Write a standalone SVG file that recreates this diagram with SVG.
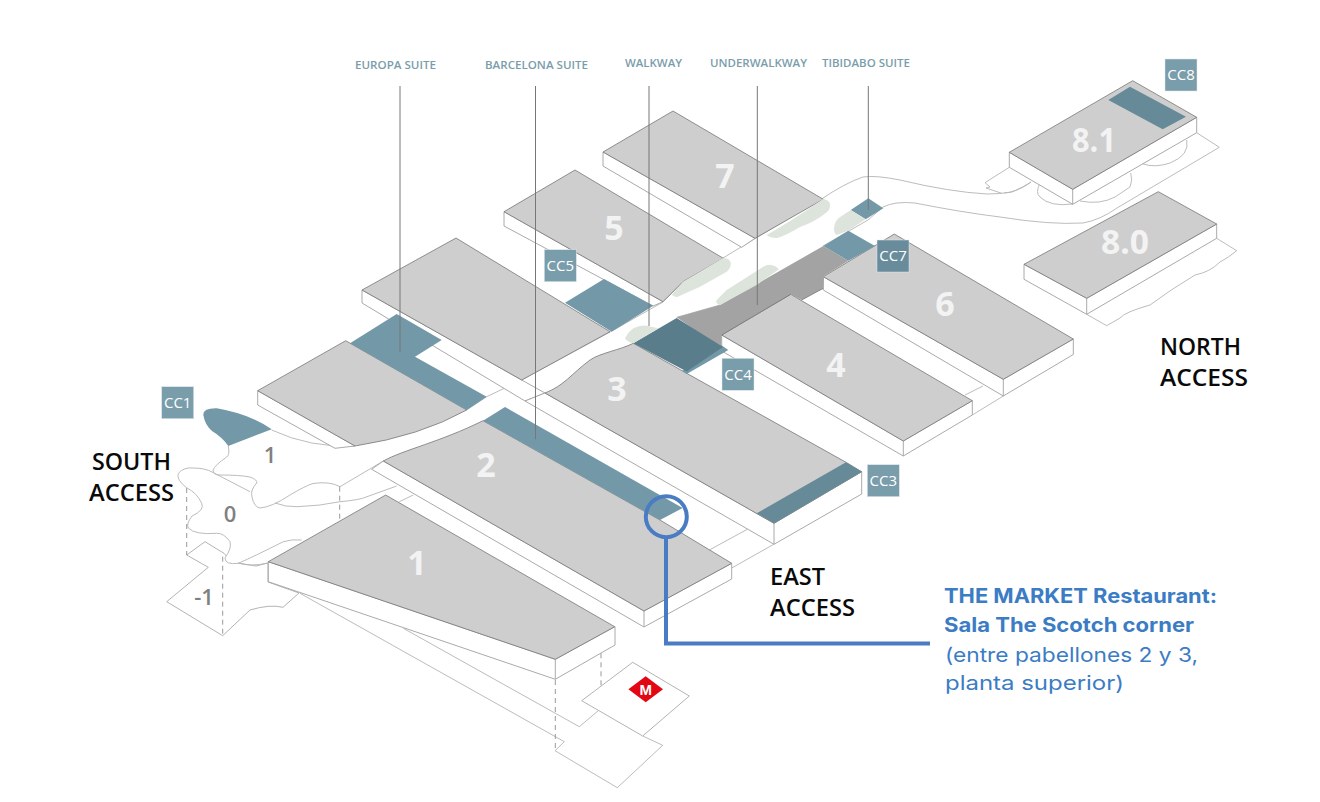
<svg xmlns="http://www.w3.org/2000/svg" width="1320" height="802" viewBox="0 0 1320 802">
<style>
.top{fill:#cecece;stroke:#777;stroke-width:.8}
.side{fill:#fff;stroke:#a0a0a0;stroke-width:.9}
.land{fill:none;stroke:#b4b4b4;stroke-width:.9}
.plate{fill:#fff;stroke:#aaa;stroke-width:.9}
.dash{fill:none;stroke:#999;stroke-width:1;stroke-dasharray:5 4}
.lead{fill:none;stroke:#777;stroke-width:1}
.bl{fill:#7399a8}.bd{fill:#5a7d8c}.bm{fill:#678a99}
.gr{fill:#dde4dc}
.cc{fill:#7a9dab;stroke:#dfe7ea;stroke-width:.5}
.cct{font:400 15px "Open Sans",sans-serif;fill:#fff;text-anchor:middle}
.hn{font:700 34px "Open Sans",sans-serif;fill:#f3f3f3;text-anchor:middle}
.fl{font:600 22px "Open Sans",sans-serif;fill:#808080;text-anchor:middle}
.acc{font:600 23.500px "Open Sans",sans-serif;fill:#0a0a0a}
.sl{font:600 11px "Open Sans",sans-serif;fill:#7a9dab}
.mk{font:700 20px Inter,"Open Sans",sans-serif;fill:#3b7cc4}
.mr{font:400 20px Inter,"Open Sans",sans-serif;fill:#3b7cc4}
</style>
<g id="ground">
<path class="plate" d="M186.700 555L205 541.700L224 553.300L230 560L238 563L256 566L268 563L268 582L299 593L283 607.300Q270 604 250 610L222.700 635.700L166.700 601.700L208.300 567.300Z"/>
<path class="plate" d="M178.300 473.300Q184 467 193 468Q205 468 212 472L250 491.700L275 503L297 506.700Q320 506 340 501.700Q360 500 367 496.700L396.700 486L413 495L385.700 495L301.700 540Q292 539 283.300 541.700Q255 556 238.300 563.300Q225 565 225 558Q232 548 230 541.700Q224 533 216.700 533.300Q195 535 188.300 528Q186 524 192 516Q205 510 201.700 503.300Q197 493 187 488Q176 480 178.300 473.300Z" style="stroke:none"/>
<path class="land" d="M178.300 473.300Q184 467 193 468Q205 468 212 472L250 491.700M178.300 473.300Q176 480 187 488Q197 493 201.700 503.300Q205 510 192 516Q186 524 188.300 528Q195 535 216.700 533.300Q224 533 230 541.700Q232 548 225 558Q225 565 238.300 563.300Q255 556 283.300 541.700Q292 539 301.700 540M238 563Q250 567 268 563"/>
<path class="land" d="M271.700 430Q310 448 355 446M228.300 446Q230 455 226.700 457Q215 465 213 470Q213 475 220 475Q240 475 250 477Q258 480 256.700 483Q250 490 252 497Q254 507 260 508Q272 507 290 495Q305 486 313 483.500Q330 481 340 486.700L383.300 461M275 503Q285 507 297 506.700Q320 506 340 501.700Q360 500 367 496.700L396.700 486"/>
<path class="land" d="M466.700 410L486.700 396.700L521.700 380L610 332L663 302L683 281.700L723 258L756 238L820 200Q845 183 863 177Q875 175 900 180Q950 192 987 194Q1000 194 1012 192Q1025 187 1031 182M1004 193Q1014 193 1031 182"/>
<path class="land" d="M676.700 317.300L720 305M823 246L868 220L883 207Q895 201 915 203Q960 212 1000 217Q1050 225 1083 223Q1100 220 1117 208L1219.300 147.300L1196.700 132.700"/>
<path class="land" d="M1009.300 167.300L985 182.700L990 187L986 188L1001.700 193.300"/>
<path class="land" d="M1040 183Q1035 193 1040 197Q1050 207 1072.700 204M1080 201Q1100 205 1115 197L1130 187Q1133 180 1130.700 173M1143 164Q1155 168 1170 163Q1190 155 1186.700 140"/>
<path class="land" d="M1216.700 238.300L1236.700 250.700Q1228 258 1220 262Q1210 272 1195 275Q1170 290 1150 305Q1125 312 1120 318L1106.700 325.700L1086.700 314.300"/>
<path class="land" d="M300 593.300L564.300 741.700L555 750.700L617.300 787.700L662.700 745.300L642.700 736M403.300 628.300L579.300 726.700L598.300 710.700"/>
<path class="plate" d="M581.700 700.700L632.700 662.300L689.300 696L642.700 736Z"/>
</g>
<g id="connectors">
<path class="dash" d="M186.700 488V555M222.700 556.700V635M339.700 486.700V532M555.300 680V750M601 653.300V686"/>
</g>
<g id="hall-7">
<path class="side" d="M603 152V166L741.700 247.300L755 238.300Z"/>
<path class="top" d="M603 152L673 111L823.300 199.300L755 238.300Z"/>
</g>
<g id="hall-5">
<path class="side" d="M504 211.700V226L653 306L663 301.700Z"/>
<path class="top" d="M504 211.700L575 170L723.300 258.300L683 281.700L663 301.700Z"/>
<polygon class="bl" points="565,302.700 604,279 653.300,305.700 611.700,331.700"/>
</g>
<g id="hall-8-1">
<path class="side" d="M1009.300 152.300V167.300L1072.700 204.300L1196.700 132.700V117.300L1072.700 189.300Z"/>
<path class="side" d="M1072.700 189.300V204.300" style="fill:none"/>
<path class="top" d="M1009.300 152.300L1132.700 80.700L1196.700 117.300L1072.700 189.300Z"/>
<polygon class="bm" points="1108.300,100 1130,86.700 1186,116.700 1162.700,129.300"/>
</g>
<g id="hall-8-0">
<path class="side" d="M1024 264.300V279.300L1086.700 314.300L1216.700 238.300V224L1086.700 298.300Z"/>
<path class="side" d="M1086.700 298.300V314.300" style="fill:none"/>
<path class="top" d="M1024 264.300L1158.300 191.700L1216.700 224L1086.700 298.300Z"/>
</g>
<g id="hall-6">
<path class="side" d="M823.300 276.700V290L1003.300 396L1073.300 354.500V339L1003.300 379.300Z"/>
<path class="side" d="M1003.300 379.300V396" style="fill:none"/>
<path class="top" d="M823.300 276.700L894.300 234L1073.300 339L1003.300 379.300Z"/>
</g>
<g id="hall-4">
<path class="land" d="M972.300 415L1003.300 396M965 395L983 386"/>
<path class="side" d="M721.700 335V351L903.300 456L972.300 415V400.700L903.300 441Z"/>
<path class="side" d="M903.300 441V456" style="fill:none"/>
<path class="top" d="M721.700 335L790.700 294.300L972.300 400.700L903.300 441Z"/>
</g>
<g id="underwalkway">
<polygon fill="#a3a3a3" points="676.700,317.300 720,305 823.300,246 848.300,260.700 824,276 823.300,288.300 801.700,300 790.700,294.300 721.700,335 721,348"/>
<path d="M721.700 335L790.700 294.300M801.700 300L823.300 288.300" fill="none" stroke="#777" stroke-width=".8"/>
</g>
<g id="hall-3-north">
<path class="side" d="M362 290V303L525 401L545 393L521.700 380Z"/>
<path class="top" d="M362 290L456 238L610 331.700L521.700 380Z"/>
</g>
<g id="hall-3">
<path class="side" d="M525 401L774 544.300L861.700 494V471.700L774 523.300L545 393Z"/>
<path class="side" d="M774 523.300V544.300" style="fill:none"/>
<path class="land" d="M709.300 550L747.300 529.300M731.700 568L774.300 544"/>
<path class="top" d="M545 393C565 385 570 375 590 360C600 353 620 350 633.300 343.300L686.700 373.300L846 462.300L861.700 471.700L774 523.300Z"/>
<polygon class="bm" points="846,462.300 861.700,471.700 774,523.300 756.700,513.300"/>
<polygon class="bl" points="721,345 728.300,350 686.700,374 682,371"/>
<polygon class="bd" points="633.300,343.300 676.700,318 723,347 686.700,371.500"/>
</g>
<g id="hall-2">
<path class="side" d="M257.700 390.700V405L335 448.300L355 446Z"/>
<path class="top" d="M257.700 390.700L345.700 340.700L466.700 410Q420 436 355 446Z"/>
<path class="side" d="M371.700 469.300L644 627L731.700 579V563.300L644 611L383.300 461Z"/>
<path class="side" d="M644 611V627" style="fill:none"/>
<path class="top" d="M383.300 461C403 450 440 442 483 420.700L660 520L731.700 563.300L644 611Z"/>
<polygon class="bl" points="350,343.300 396.700,314 441.700,340 415,356.700 486.700,396.700 466.700,410"/>
<polygon class="bl" points="505,407 682.700,508 660,520 483,420.700"/>
</g>
<g id="hall-1">
<path class="side" d="M268.300 561.700V581.700L555.300 679.300L615 645V626.700L555.300 659.300Z"/>
<path class="side" d="M555.300 659.300V679.300" style="fill:none"/>
<path class="land" d="M399.300 501.700L413.300 495"/>
<path class="top" d="M268.300 561.700L385.700 495L614.700 626.700L555.300 659.300Z"/>
</g>
<g id="cc1-area"><path class="bl" d="M228.300 446L271.700 429.300Q250 414 216.700 408.300Q203 408 203.300 415Q205 425 212 431Q222 437 228.300 446Z"/></g>
<g id="cc7-area"><polygon class="bl" points="823.300,246 848.300,230.700 875,246 848.300,260.700"/></g>
<g id="tibidabo-area"><polygon class="bl" points="850.700,210 868.300,198.300 883.300,208.300 865.700,219.300"/></g>
<g id="green-areas">
<path class="gr" d="M766.700 235Q790 222 823 199Q830 200 830 205Q830 210 827 212Q815 222 800 227Q785 236 777 238Q770 238 766.700 235Z"/>
<path class="gr" d="M671.700 295L683 281.700L723 258Q730 258 730.700 263.300Q731 268 726.700 271.700L700 286.700L676.700 297.300Z"/>
<path class="gr" d="M716.700 300L726.700 290L763.300 266.700Q768 264 771.700 265Q776 266 779 269.300L756.700 285L720 305Q715 304 716.700 300Z"/>
<path class="gr" d="M625 338.300Q628 332 633.300 328.300Q640 325 646.700 325.700L658.300 328.300L633.300 343.300Q627 342 625 338.300Z"/>
<path class="gr" d="M834 230Q834 223 838.300 218.300L850.700 210L865.700 219.300L848.300 230.700L836.700 235Q834 233 834 230Z"/>
</g>
<g id="suite-labels">
<text class="sl" x="355" y="69" textLength="81" lengthAdjust="spacingAndGlyphs">EUROPA SUITE</text>
<text class="sl" x="485" y="69" textLength="103" lengthAdjust="spacingAndGlyphs">BARCELONA SUITE</text>
<text class="sl" x="625" y="67" textLength="57" lengthAdjust="spacingAndGlyphs">WALKWAY</text>
<text class="sl" x="710" y="67" textLength="97" lengthAdjust="spacingAndGlyphs">UNDERWALKWAY</text>
<text class="sl" x="822" y="67" textLength="88" lengthAdjust="spacingAndGlyphs">TIBIDABO SUITE</text>
<path class="lead" d="M400 86V352M535.500 86V439.300M649 86V326M757.300 86V305M868.300 86V210"/>
</g>
<g id="hall-numbers">
<text class="hn" x="725" y="188">7</text>
<text class="hn" x="614" y="240">5</text>
<text class="hn" x="945" y="316">6</text>
<text class="hn" x="836" y="377">4</text>
<text class="hn" x="617" y="401">3</text>
<text class="hn" x="486" y="477">2</text>
<text class="hn" x="417" y="575">1</text>
<text class="hn" x="1094" y="152" textLength="44" lengthAdjust="spacingAndGlyphs">8.1</text>
<text class="hn" x="1125" y="254" textLength="48" lengthAdjust="spacingAndGlyphs">8.0</text>
</g>
<g id="floor-labels">
<text class="fl" x="270" y="463">1</text>
<text class="fl" x="230" y="522">0</text>
<text class="fl" x="204" y="605">-1</text>
</g>
<g id="cc1"><rect class="cc" x="161.700" y="386.700" width="32" height="32"/><text class="cct" x="177.700" y="408">CC1</text></g>
<g id="cc5"><rect class="cc" x="544.300" y="249.700" width="32" height="32"/><text class="cct" x="560.300" y="271">CC5</text></g>
<g id="cc4"><rect class="cc" x="722" y="358.300" width="32" height="32"/><text class="cct" x="738" y="379.500">CC4</text></g>
<g id="cc7"><rect class="cc" x="877" y="240" width="32" height="32" style="fill:#688c9b"/><text class="cct" x="893" y="261">CC7</text></g>
<g id="cc3"><rect class="cc" x="867.300" y="464.700" width="32" height="32"/><text class="cct" x="883.300" y="486">CC3</text></g>
<g id="cc8"><rect class="cc" x="1165" y="59" width="32" height="32"/><text class="cct" x="1181" y="80">CC8</text></g>
<g id="access-labels">
<text class="acc" x="92" y="470" textLength="79" lengthAdjust="spacingAndGlyphs">SOUTH</text>
<text class="acc" x="89" y="501" textLength="85" lengthAdjust="spacingAndGlyphs">ACCESS</text>
<text class="acc" x="770" y="585" textLength="55" lengthAdjust="spacingAndGlyphs">EAST</text>
<text class="acc" x="770" y="616" textLength="85" lengthAdjust="spacingAndGlyphs">ACCESS</text>
<text class="acc" x="1160" y="355" textLength="81" lengthAdjust="spacingAndGlyphs">NORTH</text>
<text class="acc" x="1160" y="386" textLength="88" lengthAdjust="spacingAndGlyphs">ACCESS</text>
</g>
<g id="metro">
<polygon fill="#e30613" points="628.400,689.300 645.700,676.300 663,689.300 645.700,702.300"/>
<text x="645.700" y="695" text-anchor="middle" style="font:700 15px 'Liberation Sans',sans-serif;fill:#fff">M</text>
</g>
<g id="callout">
<circle cx="666.300" cy="516.700" r="20.500" fill="none" stroke="#4a7cc4" stroke-width="4"/>
<path d="M666 538V643.500H930" fill="none" stroke="#4a7cc4" stroke-width="4"/>
<text class="mk" x="944" y="603" textLength="273" lengthAdjust="spacingAndGlyphs">THE MARKET Restaurant:</text>
<text class="mk" x="944" y="632" textLength="250" lengthAdjust="spacingAndGlyphs">Sala The Scotch corner</text>
<text class="mr" x="945" y="662" textLength="253" lengthAdjust="spacingAndGlyphs">(entre pabellones 2 y 3,</text>
<text class="mr" x="945" y="690" textLength="179" lengthAdjust="spacingAndGlyphs">planta superior)</text>
</g>
</svg>
